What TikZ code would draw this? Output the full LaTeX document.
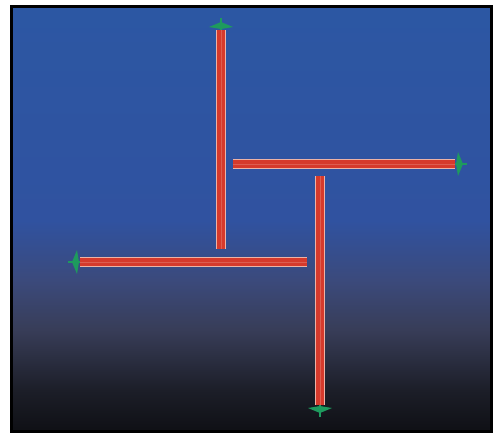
\documentclass[tikz,border=0pt]{standalone}
\usetikzlibrary{calc}
\definecolor{bgtop}{HTML}{2C57A3}
\definecolor{bgblue}{HTML}{3052A0}
\definecolor{bggrey}{HTML}{3B4A7C}
\definecolor{bgslate}{HTML}{383D58}
\definecolor{bgdark}{HTML}{1C1E28}
\definecolor{bgbot}{HTML}{0F1015}
\definecolor{barred}{HTML}{D63A2C}
\definecolor{barpale}{HTML}{EDB3A6}
\definecolor{markgreen}{HTML}{1E9A5E}
\pgfdeclareverticalshading{backdrop}{100bp}{color(0bp)=(bgbot); color(25bp)=(bgbot); color(29.8bp)=(bgdark); color(36.9bp)=(bgslate); color(42.8bp)=(bggrey); color(49.8bp)=(bgblue); color(75bp)=(bgtop); color(100bp)=(bgtop)}

\begin{document}
\begin{tikzpicture}[x=0.02cm, y=-0.02cm,
  bar/.style={line width=5.4pt, draw=barpale,
    postaction={draw=barred, line width=4.1pt},
    postaction={draw=barred!70!barpale, line width=0.5pt}},
  mark/.pic={
    \fill[markgreen] (3,-12) -- (8,0) -- (3,12) -- (1,0) -- cycle;
    \draw[markgreen, line width=1.4pt] (0,0) -- (12,0);
  }]
\useasboundingbox (0,0) rectangle (500,434);
% backdrop and frame
\shade[shading=backdrop] (12,6) rectangle (491,431);
\draw[line width=1.7pt] (11.5,6) rectangle (491,431);

% bar ends
\coordinate (a1) at (221,30);  \coordinate (a2) at (221,249);
\coordinate (b1) at (233,164); \coordinate (b2) at (455,164);
\coordinate (c1) at (320,176); \coordinate (c2) at (320,405);
\coordinate (d1) at (80,262);  \coordinate (d2) at (307,262);

\draw[bar] (a1) -- (a2);
\draw[bar] (b1) -- (b2);
\draw[bar] (c1) -- (c2);
\draw[bar] (d1) -- (d2);

\pic[rotate=90] at (a1) {mark};
\pic at (b2) {mark};
\pic[rotate=-90] at (c2) {mark};
\pic[rotate=180] at (d1) {mark};
\end{tikzpicture}
\end{document}
